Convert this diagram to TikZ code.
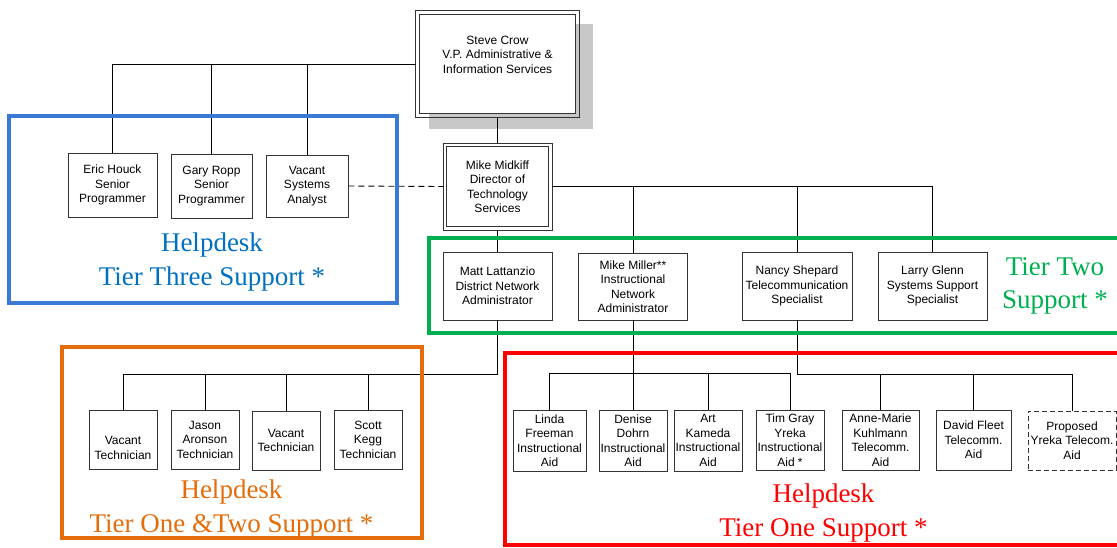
\documentclass[tikz,border=0pt]{standalone}
\usepackage{fontspec}
\setmainfont{Liberation Serif}
\setsansfont{Liberation Sans}
\definecolor{tblue}{RGB}{58,122,212}
\definecolor{tbluetxt}{RGB}{0,112,192}
\definecolor{tgreen}{RGB}{0,176,80}
\definecolor{torange}{RGB}{228,108,10}
\definecolor{tred}{RGB}{255,0,0}
\definecolor{shadowgray}{RGB}{200,200,200}
\begin{document}
\begin{tikzpicture}[x=1pt,y=-1pt,
  box/.style={draw=black!80, line width=0.9pt, fill=white, align=center, inner sep=0pt,
              font=\sffamily\fontsize{12}{14.5}\selectfont},
  outerline/.style={draw=black!80, line width=0.9pt},
  pbox/.style={box, dash pattern=on 5pt off 3pt},
  conn/.style={draw=black, line width=0.9pt},
  dconn/.style={conn, dash pattern=on 6pt off 4pt},
  frame/.style={line width=4pt},
  lbl/.style={align=center, font=\fontsize{27}{33.5}\selectfont, inner sep=0pt}]
\useasboundingbox (0,0) rectangle (1117,547);

% shadow of top box
\fill[shadowgray] (429,24) rectangle (593,129);

% top level (double border boxes)
\node[box, minimum width=156pt, minimum height=99pt] (sc) at (497.5,64) {Steve Crow\\V.P. Administrative \&\\Information Services\\\strut};
\draw[outerline] ([shift={(-3.5,-3.5)}]sc.north west) rectangle ([shift={(3.5,3.5)}]sc.south east);
\node[box, minimum width=102pt, minimum height=80pt] (mm) at (497.5,186.5) {Mike Midkiff\\Director of\\Technology\\Services};
\draw[outerline] ([shift={(-3,-3)}]mm.north west) rectangle ([shift={(3,3)}]mm.south east);

% tier three
\node[box, minimum width=89pt, minimum height=64pt] (eric) at (112.5,185) {Eric Houck\\Senior\\Programmer};
\node[box, minimum width=81pt, minimum height=64pt] (gary) at (211.5,186) {Gary Ropp\\Senior\\Programmer};
\node[box, minimum width=82pt, minimum height=62pt] (vsa) at (307,186) {Vacant\\Systems\\Analyst};

% tier two
\node[box, minimum width=109pt, minimum height=68pt] (matt) at (497.5,286) {Matt Lattanzio\\District Network\\Administrator};
\node[box, minimum width=109pt, minimum height=67pt] (miller) at (633,286.5) {Mike Miller**\\Instructional\\Network\\Administrator};
\node[box, minimum width=110pt, minimum height=68pt] (nancy) at (797,286) {Nancy Shepard\\Telecommunication\\Specialist};
\node[box, minimum width=109pt, minimum height=68pt] (larry) at (932.5,286) {Larry Glenn\\Systems Support\\Specialist};

% technicians
\node[box, minimum width=68pt, minimum height=59pt] (vac1) at (123,439.5) {\strut\\Vacant\\Technician};
\node[box, minimum width=68pt, minimum height=59pt] (jason) at (205,439.5) {Jason\\Aronson\\Technician};
\node[box, minimum width=68pt, minimum height=59pt] (vac2) at (286,440.5) {Vacant\\Technician};
\node[box, minimum width=68pt, minimum height=59pt] (scott) at (368,439.5) {Scott\\Kegg\\Technician};

% aides
\node[box, minimum width=73pt, minimum height=61pt] (linda) at (549.5,440.5) {Linda\\Freeman\\Instructional\\Aid};
\node[box, minimum width=68pt, minimum height=61pt] (denise) at (633,440.5) {Denise\\Dohrn\\Instructional\\Aid};
\node[box, minimum width=68pt, minimum height=61pt] (art) at (708,440.5) {Art\\Kameda\\Instructional\\Aid};
\node[box, minimum width=68pt, minimum height=60pt] (tim) at (790,440) {Tim Gray\\Yreka\\Instructional\\Aid *};
\node[box, minimum width=77pt, minimum height=60pt] (anne) at (880.5,440) {Anne-Marie\\Kuhlmann\\Telecomm.\\Aid};
\node[box, minimum width=75pt, minimum height=60pt] (david) at (973.5,440) {David Fleet\\Telecomm.\\Aid};
\node[pbox, minimum width=88pt, minimum height=59pt] (prop) at (1072,440.5) {Proposed\\Yreka Telecom.\\Aid};

% connectors
\draw[conn] ([xshift=-3.5pt]sc.west) -| (eric.north);
\draw[conn] (gary.north) -- (gary.north |- sc.west);
\draw[conn] (vsa.north) -- (vsa.north |- sc.west);
\draw[conn] ([yshift=-3.5pt]sc.south) -- ([yshift=3pt]mm.north);
\draw[dconn] (vsa.east) -- ([xshift=-3pt]mm.west);
\draw[conn] ([xshift=3pt]mm.east) -| (larry.north);
\draw[conn] (miller.north) -- (miller.north |- mm.east);
\draw[conn] (nancy.north) -- (nancy.north |- mm.east);
\draw[conn] ([yshift=-3pt]mm.south) -- (matt.north);

\draw[conn] (matt.south) -- ++(0,54) -| (vac1.north);
\draw[conn] (jason.north) -- ++(0,-36);
\draw[conn] (vac2.north) -- ++(0,-36);
\draw[conn] (scott.north) -- ++(0,-36);

\draw[conn] (miller.south) -- (denise.north);
\draw[conn] (linda.north) -- ++(0,-36) -| (tim.north);
\draw[conn] (art.north) -- ++(0,-36);

\draw[conn] (nancy.south) -- ++(0,54) -| (prop.north);
\draw[conn] (anne.north) -- ++(0,-36);
\draw[conn] (david.north) -- ++(0,-36);

% frames
\draw[frame, tblue] (9,116) rectangle (397,303);
\draw[frame, tgreen] (1125,238) -- (429,238) -- (429,333) -- (1125,333);
\draw[frame, torange] (62,347) rectangle (422,538);
\draw[frame, tred] (1125,353) -- (505,353) -- (505,545) -- (1125,545);

% labels
\node[lbl, text=tbluetxt] (l3) at (212,262) {Helpdesk\\Tier Three Support *};
\node[lbl, text=tgreen] (l2) at (1055,286) {Tier Two\\Support *};
\node[lbl, text=torange] (l12) at (231.5,509) {Helpdesk\\Tier One \&Two Support *};
\node[lbl, text=tred] (l1) at (823.5,513) {Helpdesk\\Tier One Support *};
\end{tikzpicture}
\end{document}
